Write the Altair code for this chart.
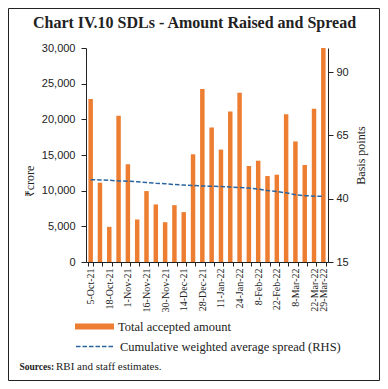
import altair as alt
import pandas as pd

dates = ["5-Oct-21", "12-Oct-21", "18-Oct-21", "26-Oct-21", "1-Nov-21", "9-Nov-21",
         "16-Nov-21", "23-Nov-21", "30-Nov-21", "7-Dec-21", "14-Dec-21", "21-Dec-21",
         "28-Dec-21", "4-Jan-22", "11-Jan-22", "18-Jan-22", "24-Jan-22", "1-Feb-22",
         "8-Feb-22", "15-Feb-22", "22-Feb-22", "1-Mar-22", "8-Mar-22", "15-Mar-22",
         "22-Mar-22", "29-Mar-22"]
amount = [22840, 11120, 4930, 20500, 13700, 5960, 9940, 8070, 5580, 7970, 6990, 15100,
          24250, 18860, 15760, 21100, 23730, 13460, 14200, 12050, 12240, 20700, 16900,
          13600, 21500, 30000]
spread = [47.5, 47.4, 47.3, 47.0, 46.9, 46.7, 46.4, 46.1, 45.9, 45.6, 45.4, 45.2, 45.0,
          44.9, 44.8, 44.6, 44.4, 44.2, 43.8, 43.2, 42.8, 42.3, 41.6, 41.2, 41.0, 40.9]
shown_labels = ["5-Oct-21", "18-Oct-21", "1-Nov-21", "16-Nov-21", "30-Nov-21", "14-Dec-21",
                "28-Dec-21", "11-Jan-22", "24-Jan-22", "8-Feb-22", "22-Feb-22", "8-Mar-22",
                "22-Mar-22", "29-Mar-22"]
left_ticks = [0, 5000, 10000, 15000, 20000, 25000, 30000]
right_ticks = [15, 40, 65, 90]
bar_name = "Total accepted amount"
line_name = "Cumulative weighted average spread (RHS)"

ORANGE = "#ED7D31"
BLUE = "#2A65A0"
INK = "#222222"
SERIF = "Liberation Serif"
SANS = "Liberation Sans"

df = pd.DataFrame({"date": dates, "amount": amount, "spread": spread,
                   "s1": bar_name, "s2": line_name})

label_list = "[" + ",".join("'" + d + "'" for d in shown_labels) + "]"

x_enc = alt.X(
    "date:N", sort=None, title=None,
    scale=alt.Scale(paddingInner=0.52, paddingOuter=0.26),
    axis=alt.Axis(labelAngle=-90,
                  labelExpr="indexof(" + label_list + ", datum.value) >= 0 ? datum.value : ''",
                  labelFont=SERIF, labelFontSize=10, labelColor=INK, tickBand="extent",
                  tickSize=4, labelPadding=2, domainColor=INK, tickColor=INK,
                  labelOverlap=False),
)

bars = alt.Chart(df).mark_bar(color=ORANGE).encode(
    x=x_enc,
    y=alt.Y("amount:Q", title="₹crore",
            scale=alt.Scale(domain=[0, 30000], nice=False),
            axis=alt.Axis(orient="left", values=left_ticks, format=",.0f", grid=False,
                          labelFont=SANS, labelFontSize=11, labelColor=INK,
                          tickSize=5, labelPadding=6, domainColor=INK, tickColor=INK,
                          titleAngle=270, titleX=-57, titleY=133, titleAlign="center",
                          titleBaseline="middle", titleFont=SERIF, titleFontSize=12,
                          titleFontWeight="normal", titleColor=INK)),
    color=alt.Color("s1:N", scale=alt.Scale(domain=[bar_name], range=[ORANGE]),
                    legend=alt.Legend(title=None, orient="none", legendX=-11, legendY=259,
                                      symbolType="M-1,-0.154H1V0.154H-1Z", symbolSize=1521,
                                      symbolStrokeWidth=0, labelFont=SERIF,
                                      labelFontSize=12.5, labelColor=INK, labelOffset=4,
                                      labelLimit=400)),
)

line = alt.Chart(df).mark_line(color=BLUE, strokeWidth=1.5).encode(
    x=x_enc,
    y=alt.Y("spread:Q", title="Basis points",
            scale=alt.Scale(domain=[15, 99.5], nice=False, zero=False),
            axis=alt.Axis(orient="right", values=right_ticks, grid=False,
                          labelFont=SANS, labelFontSize=11, labelColor=INK,
                          tickSize=5, labelPadding=3, domainColor=INK, tickColor=INK,
                          titleAngle=270, titleX=32, titleY=107, titleAlign="center",
                          titleBaseline="middle", titleFont=SERIF, titleFontSize=12,
                          titleFontWeight="normal", titleColor=INK)),
    strokeDash=alt.StrokeDash("s2:N", scale=alt.Scale(domain=[line_name], range=[[4.5, 2]]),
                              legend=alt.Legend(title=None, orient="none", legendX=-11,
                                                legendY=278, symbolType="stroke",
                                                symbolSize=1521, symbolStrokeColor=BLUE,
                                                symbolStrokeWidth=1.5, labelFont=SERIF,
                                                labelFontSize=12.5, labelColor=INK,
                                                labelOffset=4, labelLimit=400)),
)

frame = alt.Chart(pd.DataFrame({"k": [0]})).mark_rect(
    filled=False, stroke=INK, strokeWidth=1
).encode(x=alt.value(-77.5), x2=alt.value(293.5), y=alt.value(-39.5), y2=alt.value(332.5))

src_bold = alt.Chart(pd.DataFrame({"t": ["Sources:"]})).mark_text(
    align="left", baseline="middle", font=SERIF, fontSize=9.5, fontWeight="bold", color=INK
).encode(text="t:N", x=alt.value(-66.5), y=alt.value(319))

src_text = alt.Chart(pd.DataFrame({"t": ["RBI and staff estimates."]})).mark_text(
    align="left", baseline="middle", font=SERIF, fontSize=11, color=INK
).encode(text="t:N", x=alt.value(-30), y=alt.value(319))

chart = alt.layer(frame, bars, line, src_bold, src_text).resolve_scale(
    y="independent", color="independent", strokeDash="independent"
).properties(
    width=242, height=214,
    background="white",
    autosize=alt.AutoSizeParams(type="none"),
    padding={"left": 78, "top": 40, "right": 52, "bottom": 119},
    title=alt.TitleParams("Chart IV.10 SDLs - Amount Raised and Spread", font=SERIF,
                          fontSize=16, fontWeight="bold", color=INK, anchor="middle",
                          dx=-12.5, dy=27),
).configure_view(stroke=None)

chart.save("out.html", embed_options={"renderer": "svg", "actions": False})
